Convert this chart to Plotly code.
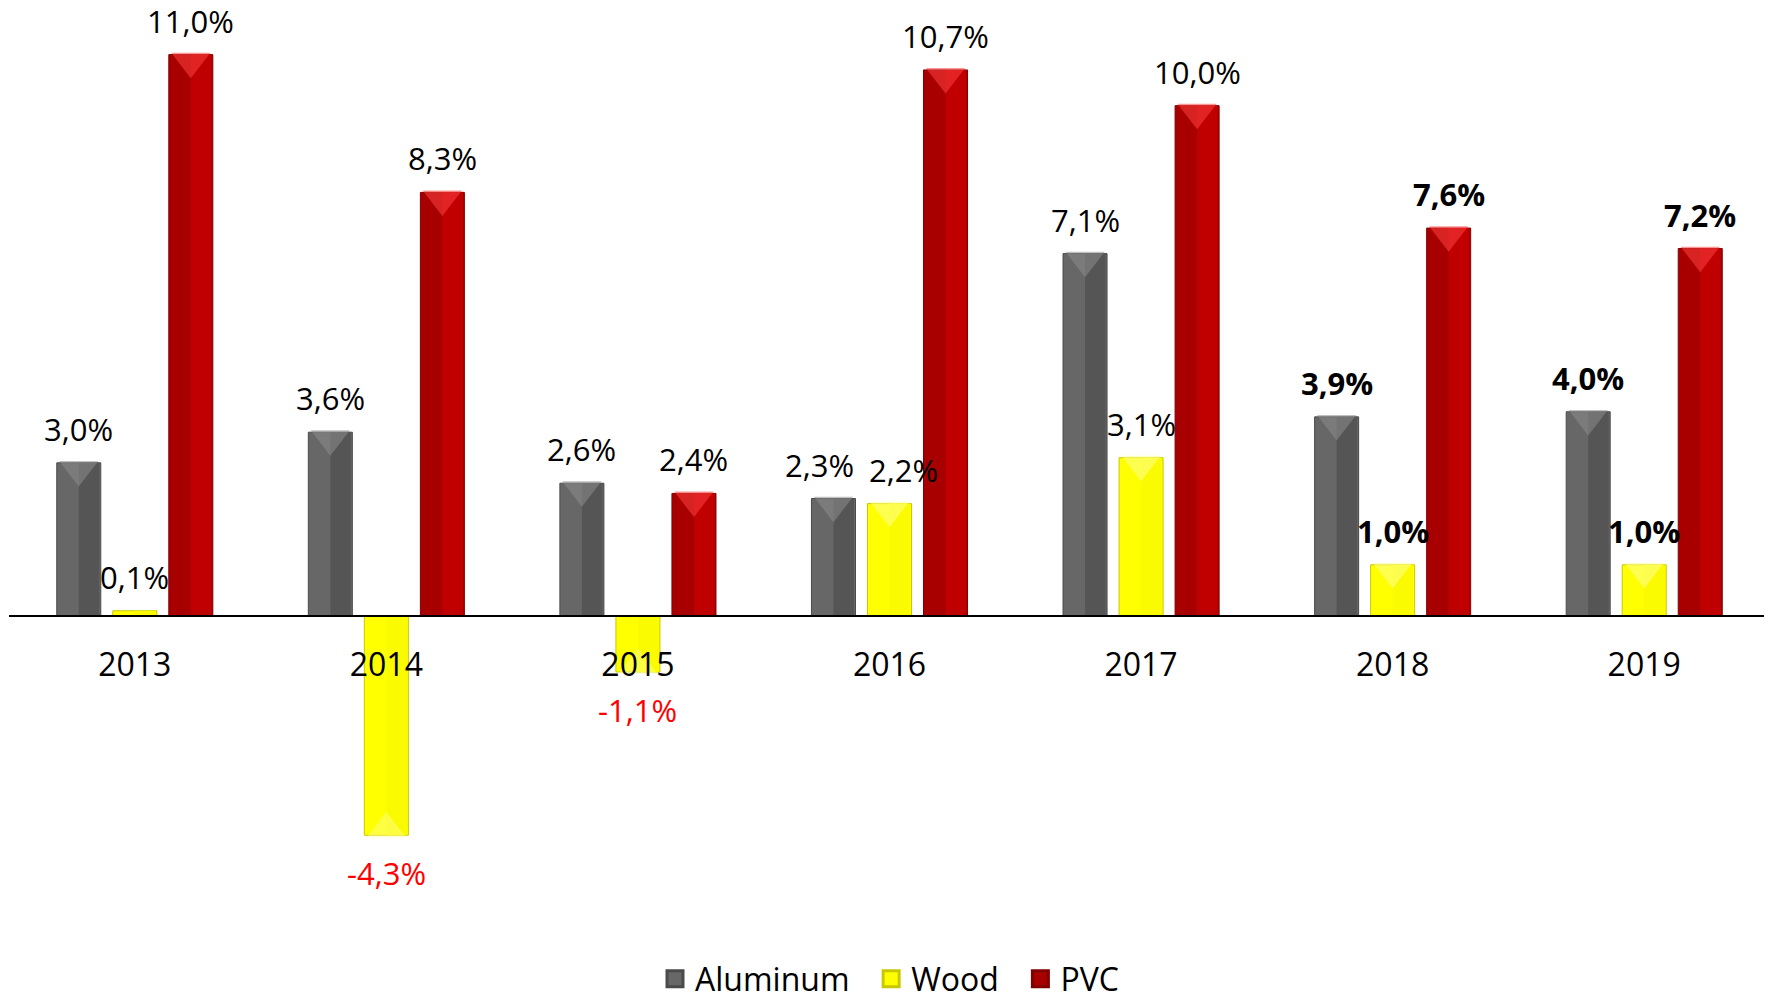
import plotly.graph_objects as go

years = ["2013", "2014", "2015", "2016", "2017", "2018", "2019"]
aluminum = [3.0, 3.6, 2.6, 2.3, 7.1, 3.9, 4.0]
wood = [0.1, -4.3, -1.1, 2.2, 3.1, 1.0, 1.0]
pvc = [11.0, 8.3, 2.4, 10.7, 10.0, 7.6, 7.2]
bold_years = ["2018", "2019"]

series = [
    ("Aluminum", aluminum, "#676767", "#555555", "#8c8c8c", "#4a4a4a"),
    ("Wood", wood, "#ffff00", "#fafa00", "#ffff90", "#c8c800"),
    ("PVC", pvc, "#a80000", "#c00000", "#ff4040", "#800000"),
]
# small horizontal nudges (px) for crowded labels: (series, year) -> shift
label_nudge = {("Aluminum", "2016"): -14, ("Wood", "2016"): 14}
legend_pad = {"Aluminum": "\u00a0\u00a0", "Wood": "\u00a0\u00a0", "PVC": ""}

FONT = "Open Sans"
xs = list(range(len(years)))
slot = 0.2227
bw = 0.175

fig = go.Figure()
annotations = []
for j, (name, vals, cl, cr, ctop, cedge) in enumerate(series):
    off = (j - 1) * slot
    fig.add_trace(go.Bar(x=xs, y=vals, width=bw, offset=off - bw / 2,
                         marker=dict(color=cl, line=dict(color=cedge, width=1)),
                         showlegend=False, hoverinfo="skip"))
    fig.add_trace(go.Bar(x=xs, y=vals, width=bw / 2 - 0.006, offset=off,
                         marker=dict(color=cr, line=dict(width=0)),
                         showlegend=False, hoverinfo="skip"))
    pos_x = [x + off for x, v in zip(xs, vals) if v > 0.4]
    pos_y = [v - 0.13 for v in vals if v > 0.4]
    fig.add_trace(go.Scatter(x=pos_x, y=pos_y, mode="markers",
                             marker=dict(symbol="triangle-down", size=34, color=ctop,
                                         line=dict(width=0), opacity=0.55),
                             showlegend=False, hoverinfo="skip", cliponaxis=False))
    neg_x = [x + off for x, v in zip(xs, vals) if v < -0.4]
    neg_y = [v + 0.13 for v in vals if v < -0.4]
    if neg_x:
        fig.add_trace(go.Scatter(x=neg_x, y=neg_y, mode="markers",
                                 marker=dict(symbol="triangle-up", size=34, color=ctop,
                                             line=dict(width=0), opacity=0.45),
                                 showlegend=False, hoverinfo="skip", cliponaxis=False))
    fig.add_trace(go.Scatter(x=[None], y=[None], mode="markers",
                             name=name + legend_pad[name],
                             marker=dict(symbol="square", size=16, color=cl,
                                         line=dict(color=cedge, width=3))))
    for x, v, yr in zip(xs, vals, years):
        txt = f"{v:.1f}".replace(".", ",") + "%"
        neg = v < 0
        if yr in bold_years:
            txt = "<b>" + txt + "</b>"
        annotations.append(dict(
            x=x + off, y=v, xref="x", yref="y", text=txt, showarrow=False,
            yshift=-38 if neg else 34, xshift=label_nudge.get((name, yr), 0),
            font=dict(family=FONT, size=31, color="#ff0000" if neg else "#000000"),
        ))

fig.update_layout(
    width=1764, height=990,
    margin=dict(l=1, r=2, t=16.4, b=76, autoexpand=False),
    paper_bgcolor="white", plot_bgcolor="white",
    barmode="overlay",
    annotations=annotations,
    font=dict(family=FONT, size=31, color="#000000"),
    legend=dict(orientation="h", x=0.5, xanchor="center", y=-0.0635, yanchor="middle",
                font=dict(family=FONT, size=32), itemwidth=30, tracegroupgap=0,
                itemsizing="trace"),
    xaxis=dict(range=[-0.5, 6.5], tickmode="array", tickvals=xs, ticktext=years,
               anchor="free", position=0.3409, showline=True, linecolor="#000000",
               linewidth=2, showgrid=False, zeroline=False, ticks="",
               ticklabelstandoff=21, tickfont=dict(family=FONT, size=32),
               fixedrange=True, automargin=False),
    yaxis=dict(range=[-6, 11.6], visible=False, showgrid=False, zeroline=False,
               fixedrange=True, automargin=False),
    showlegend=True,
)

fig.write_html("out.html")
